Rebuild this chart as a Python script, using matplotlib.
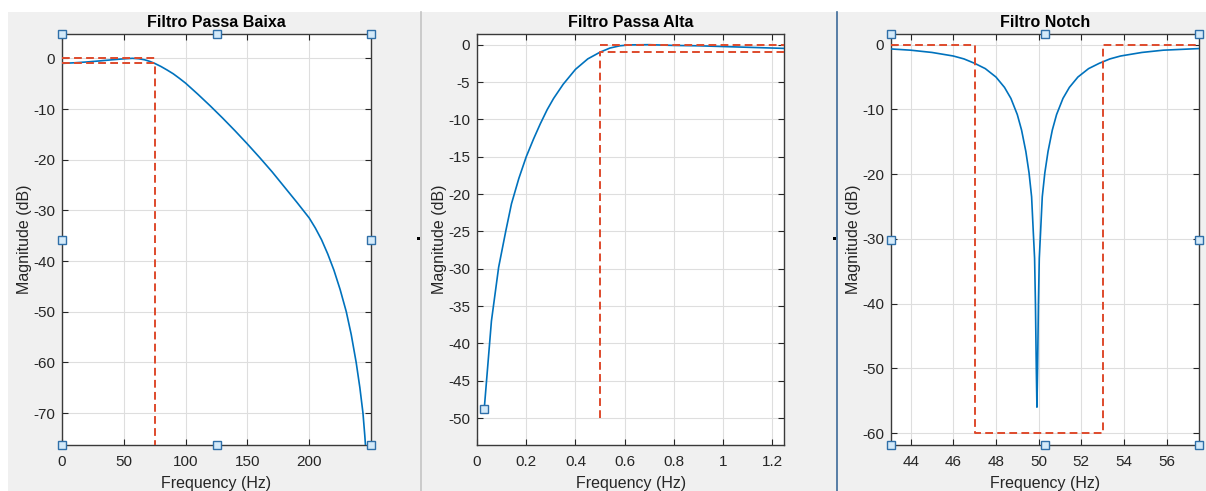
import matplotlib
matplotlib.use("Agg")
import matplotlib.pyplot as plt
from matplotlib.patches import Rectangle
from matplotlib.lines import Line2D

plt.rcParams['font.family'] = ['Liberation Sans', 'DejaVu Sans']
plt.rcParams['axes.unicode_minus'] = False

# ---------------- data ----------------
# Low-pass filter response
lp_f = [0, 10, 20, 30, 40, 50, 57, 62, 67, 71, 75, 80, 85, 90, 95, 100, 110, 120,
        130, 140, 150, 160, 170, 180, 190, 200, 205, 210, 215, 220, 225, 230, 234,
        238, 241, 243.5, 245, 246]
lp_db = [-1.0, -0.88, -0.72, -0.52, -0.3, -0.1, 0.0, -0.08, -0.3, -0.6, -1.0, -1.6,
         -2.3, -3.05, -3.95, -4.9, -7.1, -9.4, -11.8, -14.3, -16.9, -19.6, -22.4,
         -25.4, -28.4, -31.5, -33.5, -35.8, -38.6, -41.8, -45.6, -50.0, -54.5,
         -60.0, -65.0, -70.0, -74.5, -78.0]
lp_mask_top_x = [0, 75]
lp_mask_top_y = [0, 0]
lp_mask_low_x = [0, 75, 75]
lp_mask_low_y = [-1, -1, -76.3]

# High-pass filter response
hp_f = [0.0293, 0.0586, 0.0879, 0.1172, 0.14, 0.17, 0.2, 0.23, 0.257, 0.285, 0.311,
        0.35, 0.4, 0.45, 0.5, 0.54, 0.58, 0.62, 0.7, 0.8, 0.9, 1.0, 1.1, 1.25]
hp_db = [-48.8, -37.0, -29.8, -24.9, -21.3, -17.9, -15.0, -12.6, -10.6, -8.7, -7.2,
         -5.3, -3.3, -1.9, -1.0, -0.45, -0.15, -0.03, 0.0, -0.1, -0.15, -0.25,
         -0.35, -0.5]
hp_mask_top_x = [0.5, 1.25]
hp_mask_top_y = [0, 0]
hp_mask_low_x = [0.5, 0.5, 1.25]
hp_mask_low_y = [-50, -1, -1]
hp_tip = (0.0293, -48.8)

# Notch filter response
nt_f = [43.08, 44, 45, 46, 46.5, 47, 47.5, 48, 48.4, 48.7, 49.0, 49.2, 49.4, 49.55,
        49.67, 49.75, 49.81, 49.85, 49.89, 49.92, 49.95, 49.99, 50.03, 50.09, 50.17,
        50.29, 50.44, 50.64, 50.84, 51.14, 51.44, 51.84, 52.34, 52.84, 53.34, 53.84,
        54.84, 55.84, 57.53]
nt_db = [-0.66, -0.85, -1.2, -1.75, -2.2, -2.88, -3.7, -5.0, -6.6, -8.3, -10.8, -13.2,
         -16.5, -19.8, -23.5, -29.0, -33.0, -40.0, -50.0, -56.0, -50.0, -40.0, -33.0,
         -29.0, -23.5, -19.8, -16.5, -13.2, -10.8, -8.3, -6.6, -5.0, -3.7, -2.88,
         -2.2, -1.75, -1.2, -0.85, -0.6]
nt_mask_x = [43.08, 47, 47, 53, 53, 57.53]
nt_mask_y = [0, 0, -60, -60, 0, 0]

titles = ["Filtro Passa Baixa", "Filtro Passa Alta", "Filtro Notch"]
xlabel = "Frequency (Hz)"
ylabel = "Magnitude (dB)"

# ---------------- figure ----------------
W, H = 1206, 491
fig = plt.figure(figsize=(W / 100, H / 100), dpi=100, facecolor='white')

def px_rect(x0, y0, x1, y1, z, **kw):
    fig.add_artist(Rectangle((x0 / W, 1 - y1 / H), (x1 - x0) / W, (y1 - y0) / H,
                             transform=fig.transFigure, zorder=z, **kw))

def px_vline(x, y0, y1, **kw):
    fig.add_artist(Line2D([x / W, x / W], [1 - y0 / H, 1 - y1 / H],
                          transform=fig.transFigure, zorder=-5, **kw))

px_rect(8, 12, W, H, -10, facecolor='#f0f0f0', edgecolor='none')
px_vline(420.5, 12, H, color='#c4c4c4', lw=1.2)
px_vline(836.5, 12, H, color='#3d6a99', lw=1.2)
px_rect(417, 237, 420, 240, -4, facecolor='black', edgecolor='none')
px_rect(833, 237, 836, 240, -4, facecolor='black', edgecolor='none')

BLUE = '#0072BD'
RED = '#DE4A2C'
AX = '#262626'
DASH = (4, 2.2)

def make_ax(left_px, right_px):
    ax = fig.add_axes([left_px / W, 1 - 445 / H, (right_px - left_px) / W, (445 - 34) / H])
    ax.set_zorder(1)
    ax.set_facecolor('white')
    for s in ax.spines.values():
        s.set_color('#3a3a3a')
        s.set_linewidth(1.0)
    ax.tick_params(direction='in', top=True, right=True, length=4, width=0.8,
                   colors=AX, labelsize=11, labelcolor=AX)
    ax.tick_params(axis='x', pad=7)
    ax.tick_params(axis='y', pad=5)
    ax.grid(True, color='#dedede', lw=0.8)
    ax.set_axisbelow(True)
    return ax

def handles(ax):
    pts = [(0, 1), (0.5, 1), (1, 1), (0, 0.5), (1, 0.5), (0, 0), (0.5, 0), (1, 0)]
    for (x, y) in pts:
        ax.plot([x], [y], 's', transform=ax.transAxes, clip_on=False, ms=5.5,
                mfc='#d4eaf9', mec='#2f6fa8', mew=1.0, zorder=10)

# Panel 1
ax1 = make_ax(62, 371)
ax1.plot(lp_f, lp_db, color=BLUE, lw=1.2, zorder=3)
ax1.plot(lp_mask_top_x, lp_mask_top_y, '--', color=RED, lw=1.4, dashes=DASH, zorder=4)
ax1.plot(lp_mask_low_x, lp_mask_low_y, '--', color=RED, lw=1.4, dashes=DASH, zorder=4)
ax1.set_xlim(0, 250)
ax1.set_ylim(-76.3, 4.8)
ax1.set_xticks([0, 50, 100, 150, 200])
ax1.set_yticks([-70, -60, -50, -40, -30, -20, -10, 0])
handles(ax1)

# Panel 2
ax2 = make_ax(477, 784.3)
ax2.plot(hp_f, hp_db, color=BLUE, lw=1.2, zorder=3)
ax2.plot(hp_mask_top_x, hp_mask_top_y, '--', color=RED, lw=1.4, dashes=DASH, zorder=4)
ax2.plot(hp_mask_low_x, hp_mask_low_y, '--', color=RED, lw=1.4, dashes=DASH, zorder=4)
ax2.plot([hp_tip[0]], [hp_tip[1]], 's', ms=5.5, mfc='#d4eaf9', mec='#2f6fa8', mew=1.0, zorder=6)
ax2.set_xlim(0, 1.248)
ax2.set_ylim(-53.6, 1.43)
ax2.set_xticks([0, 0.2, 0.4, 0.6, 0.8, 1.0, 1.2])
ax2.set_xticklabels(['0', '0.2', '0.4', '0.6', '0.8', '1', '1.2'])
ax2.set_yticks([-50, -45, -40, -35, -30, -25, -20, -15, -10, -5, 0])

# Panel 3
ax3 = make_ax(891, 1199.3)
ax3.plot(nt_f, nt_db, color=BLUE, lw=1.2, zorder=3)
ax3.plot(nt_mask_x, nt_mask_y, '--', color=RED, lw=1.4, dashes=DASH, zorder=4)
ax3.set_xlim(43.08, 57.53)
ax3.set_ylim(-61.85, 1.65)
ax3.set_xticks([44, 46, 48, 50, 52, 54, 56])
ax3.set_yticks([-60, -50, -40, -30, -20, -10, 0])
handles(ax3)

for ax, t in zip([ax1, ax2, ax3], titles):
    ax.set_title(t, fontsize=11.5, fontweight='bold', color='black', pad=5)
    ax.set_xlabel(xlabel, fontsize=11.5, color=AX, labelpad=5)
    ax.set_ylabel(ylabel, fontsize=11.5, color=AX, labelpad=1)

fig.savefig('out.png', dpi=100, facecolor=fig.get_facecolor())
